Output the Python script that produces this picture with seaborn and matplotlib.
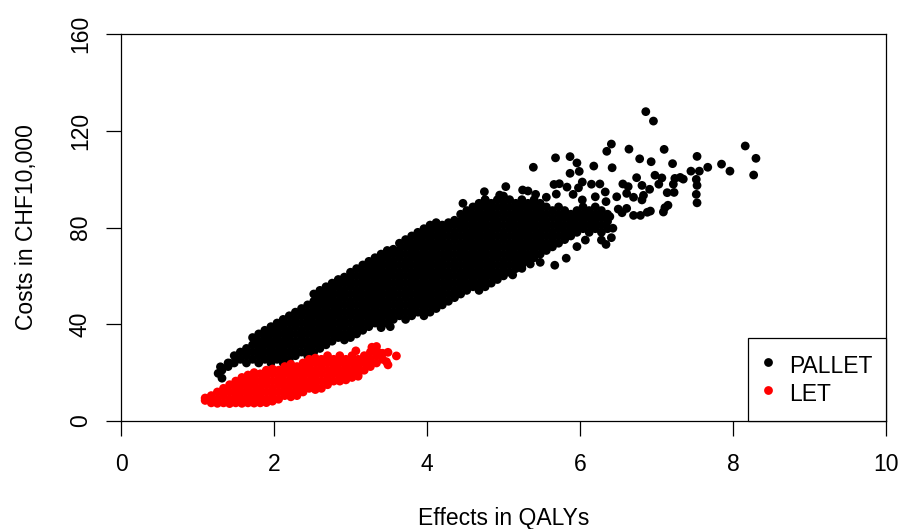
import numpy as np
import pandas as pd
import matplotlib
matplotlib.use('Agg')
import matplotlib.pyplot as plt
import seaborn as sns

###
#   Points: outliers one by one, the solid part of each cloud by columns
###
pallet_x = [6.86, 6.96, 6.41, 6.35, 6.64, 7.10, 8.16, 8.30, 8.27, 7.85, 7.96, 7.67, 7.53, 7.56, 7.45, 7.21, 6.93, 6.78,
            6.42, 6.18, 5.99, 5.87, 5.96, 5.87, 5.68, 5.39, 6.74, 6.98, 7.07, 7.03, 6.81, 6.56, 6.63, 6.91, 7.22, 7.24,
            7.31, 7.35, 7.52, 7.53, 7.52, 7.53, 7.23, 7.14, 7.15, 7.11, 7.09, 6.92, 6.88, 6.79, 6.70, 6.55, 6.50, 6.61,
            6.83, 6.81, 6.70, 6.61, 6.48, 6.34, 6.33, 6.26, 6.15, 6.20, 6.03, 5.98, 5.83, 5.73, 5.66, 5.69, 5.56, 5.91,
            6.03, 5.67, 5.82, 5.96, 6.34, 6.28, 6.41, 6.43, 6.39, 6.07, 5.48, 5.35, 5.24, 5.12, 4.75, 5.03, 4.95, 5.25,
            5.32, 5.42, 4.76, 1.30, 1.27, 1.32, 1.42, 3.52, 3.40, 4.47]
pallet_y = [127.9, 124.0, 114.5, 111.5, 112.4, 112.3, 113.7, 108.6, 101.7, 106.2, 103.3, 104.9, 109.4, 103.3, 103.3, 106.4, 107.2, 108.4,
            104.7, 105.4, 103.2, 102.4, 106.7, 109.3, 108.8, 104.9, 100.6, 101.6, 100.5, 97.9, 97.4, 98.0, 96.9, 95.8, 97.9, 100.3,
            100.7, 100.0, 99.9, 97.4, 93.7, 90.2, 94.5, 94.4, 89.2, 88.2, 86.4, 86.8, 86.3, 85.0, 85.0, 86.1, 87.6, 87.9,
            93.3, 91.4, 92.5, 94.1, 92.7, 90.7, 94.7, 98.0, 97.9, 92.7, 98.8, 96.4, 96.7, 98.1, 97.8, 93.8, 92.5, 93.7,
            91.4, 64.4, 67.3, 72.1, 73.0, 74.8, 75.8, 79.7, 84.5, 74.8, 65.6, 64.9, 63.1, 60.4, 94.8, 96.9, 93.4, 95.5,
            95.1, 93.7, 91.4, 22.4, 19.7, 17.7, 23.9, 39.0, 38.6, 90.0]

pallet_col_x = [1.32, 1.40, 1.48, 1.56, 1.64, 1.72, 1.80, 1.88, 1.96, 2.04, 2.12, 2.20, 2.28, 2.36, 2.44, 2.52, 2.60, 2.68,
                2.76, 2.84, 2.92, 3.00, 3.08, 3.16, 3.24, 3.32, 3.40, 3.48, 3.56, 3.64, 3.72, 3.80, 3.88, 3.96, 4.04, 4.12,
                4.20, 4.28, 4.36, 4.44, 4.52, 4.60, 4.68, 4.76, 4.84, 4.92, 5.00, 5.08, 5.16, 5.24, 5.32, 5.40, 5.48, 5.56,
                5.64, 5.72, 5.80, 5.88, 5.96, 6.04, 6.12, 6.20, 6.28, 6.36]
pallet_col_y = [
    [21],
    [22.5, 24],
    [24, 27],
    [25.5, 28.5],
    [24, 27, 30],
    [25.5, 28.5, 31.5, 34.5],
    [24, 27, 30, 33, 36],
    [25.5, 28.5, 31.5, 34.5, 37.5],
    [24, 27, 30, 33, 36, 39],
    [25.5, 28.5, 31.5, 34.5, 37.5, 40.5],
    [24, 27, 30, 33, 36, 39, 42],
    [25.5, 28.5, 31.5, 34.5, 37.5, 40.5, 43.5],
    [27, 30, 33, 36, 39, 42, 45],
    [28.5, 31.5, 34.5, 37.5, 40.5, 43.5, 46.5],
    [27, 30, 33, 36, 39, 42, 45, 48],
    [28.5, 31.5, 34.5, 37.5, 40.5, 43.5, 46.5, 49.5, 52.5],
    [30, 33, 36, 39, 42, 45, 48, 51, 54],
    [31.5, 34.5, 37.5, 40.5, 43.5, 46.5, 49.5, 52.5, 55.5],
    [33, 36, 39, 42, 45, 48, 51, 54, 57],
    [34.5, 37.5, 40.5, 43.5, 46.5, 49.5, 52.5, 55.5, 58.5],
    [33.5, 36, 39, 42, 45, 48, 51, 54, 57, 59.5],
    [34.5, 37.5, 40.5, 43.5, 46.5, 49.5, 52.5, 55.5, 58.5, 61.5],
    [36, 39, 42, 45, 48, 51, 54, 57, 60, 63],
    [37.5, 40.5, 43.5, 46.5, 49.5, 52.5, 55.5, 58.5, 61.5, 64.5],
    [39, 42, 45, 48, 51, 54, 57, 60, 63, 66],
    [40.5, 43.5, 46.5, 49.5, 52.5, 55.5, 58.5, 61.5, 64.5, 67.5],
    [39, 42, 45, 48, 51, 54, 57, 60, 63, 66, 69],
    [40.5, 43.5, 46.5, 49.5, 52.5, 55.5, 58.5, 61.5, 64.5, 67.5, 70.5],
    [42, 45, 48, 51, 54, 57, 60, 63, 66, 69, 71],
    [43.5, 46.5, 49.5, 52.5, 55.5, 58.5, 61.5, 64.5, 67.5, 70.5, 73.5],
    [42, 45, 48, 51, 54, 57, 60, 63, 66, 69, 72, 75],
    [43.5, 46.5, 49.5, 52.5, 55.5, 58.5, 61.5, 64.5, 67.5, 70.5, 73.5, 76.5],
    [45, 48, 51, 54, 57, 60, 63, 66, 69, 72, 75, 78],
    [43.5, 46.5, 49.5, 52.5, 55.5, 58.5, 61.5, 64.5, 67.5, 70.5, 73.5, 76.5, 79.5],
    [45, 48, 51, 54, 57, 60, 63, 66, 69, 72, 75, 78, 81],
    [46.5, 49.5, 52.5, 55.5, 58.5, 61.5, 64.5, 67.5, 70.5, 73.5, 76.5, 79.5, 82],
    [48, 51, 54, 57, 60, 63, 66, 69, 72, 75, 78, 81],
    [49.5, 52.5, 55.5, 58.5, 61.5, 64.5, 67.5, 70.5, 73.5, 76.5, 79.5, 82],
    [51, 54, 57, 60, 63, 66, 69, 72, 75, 78, 81, 83],
    [52.5, 55.5, 58.5, 61.5, 64.5, 67.5, 70.5, 73.5, 76.5, 79.5, 82.5, 85.5],
    [54, 57, 60, 63, 66, 69, 72, 75, 78, 81, 84, 87],
    [55.5, 58.5, 61.5, 64.5, 67.5, 70.5, 73.5, 76.5, 79.5, 82.5, 85.5, 88.5],
    [54, 57, 60, 63, 66, 69, 72, 75, 78, 81, 84, 87, 90],
    [55.5, 58.5, 61.5, 64.5, 67.5, 70.5, 73.5, 76.5, 79.5, 82.5, 85.5, 88.5, 91.5],
    [57, 60, 63, 66, 69, 72, 75, 78, 81, 84, 87, 90],
    [58.5, 61.5, 64.5, 67.5, 70.5, 73.5, 76.5, 79.5, 82.5, 85.5, 88.5, 91.5],
    [60, 63, 66, 69, 72, 75, 78, 81, 84, 87, 90, 93],
    [61.5, 64.5, 67.5, 70.5, 73.5, 76.5, 79.5, 82.5, 85.5, 88.5, 91.5],
    [63, 66, 69, 72, 75, 78, 81, 84, 87, 90],
    [64.5, 67.5, 70.5, 73.5, 76.5, 79.5, 82.5, 85.5, 88.5, 91.5],
    [66, 69, 72, 75, 78, 81, 84, 87, 90],
    [67.5, 70.5, 73.5, 76.5, 79.5, 82.5, 85.5, 88.5, 91.5],
    [69, 72, 75, 78, 81, 84, 87, 90],
    [70.5, 73.5, 76.5, 79.5, 82.5, 85.5, 88.5],
    [72, 75, 78, 81, 84, 87],
    [73.5, 76.5, 79.5, 82.5, 85.5, 88.5],
    [75, 78, 81, 84, 87],
    [76.5, 79.5, 82.5, 85.5],
    [78, 81, 84, 87],
    [79.5, 82.5, 85.5, 88.5],
    [78, 81, 84, 87],
    [79.5, 82.5, 85.5, 88.5],
    [78, 81, 84, 87],
    [79.5, 82.5, 85.5],
]

let_x = [3.28, 3.34, 3.49, 3.60, 3.39, 3.49, 3.47, 3.07]
let_y = [30.5, 30.8, 28.4, 26.9, 28.0, 23.2, 24.5, 29.0]

let_col_x = [1.10, 1.18, 1.26, 1.34, 1.42, 1.50, 1.58, 1.66, 1.74, 1.82, 1.90, 1.98, 2.06, 2.14, 2.22, 2.30, 2.38, 2.46,
             2.54, 2.62, 2.70, 2.78, 2.86, 2.94, 3.02, 3.10, 3.18, 3.26, 3.34, 3.42]
let_col_y = [
    [8.5, 9.5],
    [7.5, 10.5],
    [7.3, 9, 12],
    [7.5, 10.5, 13.5],
    [7.2, 9, 12, 15],
    [7.5, 10.5, 13.5, 16.5],
    [7.3, 9, 12, 15, 18],
    [7.5, 10.5, 13.5, 16.5, 19],
    [7.4, 9, 12, 15, 18, 20],
    [7.5, 10.5, 13.5, 16.5, 19.5],
    [7.6, 9, 12, 15, 18, 21],
    [8.2, 10.5, 13.5, 16.5, 19.5, 21.5],
    [9, 12, 15, 18, 21],
    [10.5, 13.5, 16.5, 19.5, 22.5],
    [10, 12, 15, 18, 21, 23.5],
    [10.5, 13.5, 16.5, 19.5, 22.5],
    [12, 15, 18, 21, 24],
    [13.5, 16.5, 19.5, 22.5, 25.5],
    [13, 15, 18, 21, 24, 26],
    [13.5, 16.5, 19.5, 22.5, 25.5],
    [15, 18, 21, 24, 27],
    [16.5, 19.5, 22.5, 25.5],
    [16.5, 18, 21, 24, 27],
    [17, 19.5, 22.5, 25.5],
    [18, 21, 24, 27],
    [18.5, 19.5, 22.5, 25.5],
    [21, 24, 27],
    [22.5, 25.5, 28.5],
    [24, 27, 29],
    [25.5, 28],
]

x_ticks = [0, 2, 4, 6, 8, 10]
y_ticks = [0, 40, 80, 120, 160]
arm_names = ['PALLET', 'LET']

###
#   Flatten into one table, black first so the red sits on top
###
px = pallet_x + [x for x, col in zip(pallet_col_x, pallet_col_y) for _ in col]
py = pallet_y + [y for col in pallet_col_y for y in col]
lx = let_x + [x for x, col in zip(let_col_x, let_col_y) for _ in col]
ly = let_y + [y for col in let_col_y for y in col]

df = pd.DataFrame({
    'effects': px + lx,
    'costs': py + ly,
    'arm': [arm_names[0]] * len(px) + [arm_names[1]] * len(lx),
})

###
#   Plot
###
sns.set_style('white')
plt.rcParams['font.family'] = ['Liberation Sans', 'DejaVu Sans']
plt.rcParams['font.size'] = 16.5

fig = plt.figure(figsize=(9.02, 5.29), dpi=100)
ax = fig.add_axes([121 / 902, 1 - 421 / 529, 765 / 902, 387 / 529])

sns.scatterplot(data=df, x='effects', y='costs', hue='arm', hue_order=arm_names,
                palette={'PALLET': 'black', 'LET': 'red'}, s=40, linewidth=0,
                alpha=1, ax=ax, clip_on=True)

ax.set_xlim(0, 10)
ax.set_ylim(0, 160)
ax.set_xticks(x_ticks)
ax.set_yticks(y_ticks)
ax.tick_params(axis='both', direction='out', length=10.5, width=0.9, color='black',
               labelsize=16.5, labelcolor='black', bottom=True, left=True)
ax.tick_params(axis='x', pad=12.5)
ax.tick_params(axis='y', pad=10.5)
plt.setp(ax.get_yticklabels(), rotation=90, va='center')
for side in ax.spines.values():
    side.set_visible(True)
    side.set_color('black')
    side.set_linewidth(0.9)

ax.set_xlabel('Effects in QALYs', fontsize=16.5, color='black', labelpad=22)
ax.set_ylabel('Costs in CHF10,000', fontsize=16.5, color='black', labelpad=22)

handles, labels = ax.get_legend_handles_labels()
leg = ax.legend(handles, labels, loc='lower right', bbox_to_anchor=(1, 0), borderaxespad=0,
                fontsize=16.5, labelcolor='black', frameon=True, fancybox=False, framealpha=1,
                edgecolor='black', borderpad=0.6, handlelength=0.58, handleheight=1.47,
                handletextpad=0.6, labelspacing=0.03)
leg.get_frame().set_linewidth(0.9)

fig.savefig('out.png', dpi=100)
